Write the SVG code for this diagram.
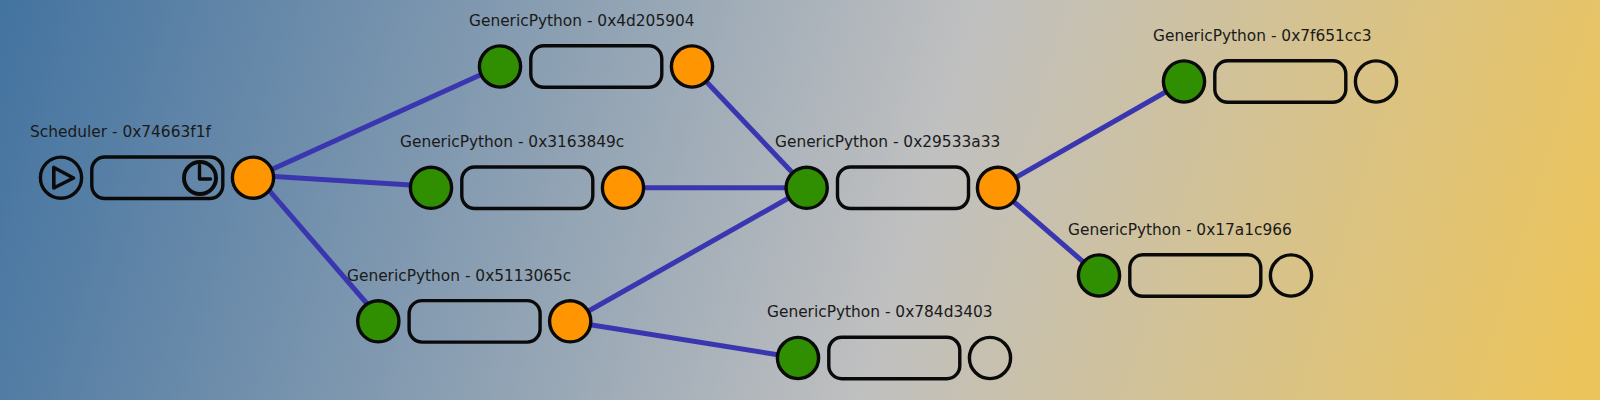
<svg xmlns="http://www.w3.org/2000/svg" width="1600" height="400" viewBox="0 0 1600 400">
<defs>
<linearGradient id="bg" gradientUnits="userSpaceOnUse" x1="0" y1="-207" x2="1600" y2="268">
<stop offset="0" stop-color="#3b6e9e"/>
<stop offset="0.6" stop-color="#c0c0c0"/>
<stop offset="1" stop-color="#ebc45c"/>
</linearGradient>
</defs>
<style>
.lbl{font-family:"DejaVu Sans",sans-serif;font-size:15.4px;fill:#1a1a1a}
.box{fill:none;stroke:#0a0a0a;stroke-width:3.4}
.in{fill:#2f8f00;stroke:#0a0a0a;stroke-width:3.4}
.out{fill:#ff9500;stroke:#0a0a0a;stroke-width:3.4}
.edge{stroke:#3a36b0;stroke-width:5;fill:none}
.ic{fill:none;stroke:#0a0a0a;stroke-linejoin:round;stroke-linecap:round}
</style>
<rect width="1600" height="400" fill="url(#bg)"/>
<g id="connectors">
<line class="edge" x1="253" y1="178" x2="500" y2="66"/>
<line class="edge" x1="253" y1="175.3" x2="431" y2="186.3"/>
<line class="edge" x1="258" y1="177.7" x2="382" y2="321"/>
<line class="edge" x1="692" y1="66.5" x2="806.7" y2="187.8"/>
<line class="edge" x1="622" y1="187.8" x2="806.7" y2="187.8"/>
<line class="edge" x1="570" y1="321.5" x2="806.7" y2="187.8"/>
<line class="edge" x1="570" y1="321.5" x2="798" y2="358"/>
<line class="edge" x1="997.7" y1="187.8" x2="1184" y2="81.5"/>
<line class="edge" x1="997.7" y1="187.8" x2="1099" y2="275.5"/>
</g>
<g id="scheduler">
<text class="lbl" x="30" y="136.7">Scheduler - 0x74663f1f</text>
<circle class="box" cx="61" cy="177.7" r="20.6"/>
<path class="ic" stroke-width="3.6" d="M53.800 167.500V188L73.500 178Z"/>
<rect class="box" x="91.800" y="157" width="131" height="41.500" rx="13"/>
<circle class="ic" stroke-width="4" cx="200" cy="178" r="16"/>
<path class="ic" stroke-width="3.400" d="M199.500 165.500V179H210.500"/>
<circle class="out" cx="253" cy="177.700" r="20.600"/>
</g>
<g id="node-4d205904">
<text class="lbl" x="469" y="26">GenericPython - 0x4d205904</text>
<circle class="in" cx="500" cy="66.500" r="20.600"/>
<rect class="box" x="530.800" y="45.800" width="131" height="41.500" rx="13"/>
<circle class="out" cx="692" cy="66.500" r="20.600"/>
</g>
<g id="node-3163849c">
<text class="lbl" x="400" y="147.300">GenericPython - 0x3163849c</text>
<circle class="in" cx="431" cy="187.800" r="20.600"/>
<rect class="box" x="461.800" y="167" width="131" height="41.500" rx="13"/>
<circle class="out" cx="623" cy="187.800" r="20.600"/>
</g>
<g id="node-5113065c">
<text class="lbl" x="347" y="281">GenericPython - 0x5113065c</text>
<circle class="in" cx="378.300" cy="321.300" r="20.600"/>
<rect class="box" x="409.100" y="300.600" width="131" height="41.500" rx="13"/>
<circle class="out" cx="570.200" cy="321.300" r="20.600"/>
</g>
<g id="node-29533a33">
<text class="lbl" x="775" y="147.300">GenericPython - 0x29533a33</text>
<circle class="in" cx="806.700" cy="187.800" r="20.600"/>
<rect class="box" x="837.500" y="167" width="131" height="41.500" rx="13"/>
<circle class="out" cx="998" cy="187.800" r="20.600"/>
</g>
<g id="node-784d3403">
<text class="lbl" x="767" y="316.500">GenericPython - 0x784d3403</text>
<circle class="in" cx="798" cy="358" r="20.600"/>
<rect class="box" x="828.800" y="337.200" width="131" height="41.500" rx="13"/>
<circle class="box" cx="990" cy="358" r="20.600"/>
</g>
<g id="node-7f651cc3">
<text class="lbl" x="1153" y="41">GenericPython - 0x7f651cc3</text>
<circle class="in" cx="1184" cy="81.500" r="20.600"/>
<rect class="box" x="1214.800" y="60.800" width="131" height="41.500" rx="13"/>
<circle class="box" cx="1376" cy="81.500" r="20.600"/>
</g>
<g id="node-17a1c966">
<text class="lbl" x="1068" y="235">GenericPython - 0x17a1c966</text>
<circle class="in" cx="1099" cy="275.500" r="20.600"/>
<rect class="box" x="1129.800" y="254.800" width="131" height="41.500" rx="13"/>
<circle class="box" cx="1291" cy="275.500" r="20.600"/>
</g>
</svg>
